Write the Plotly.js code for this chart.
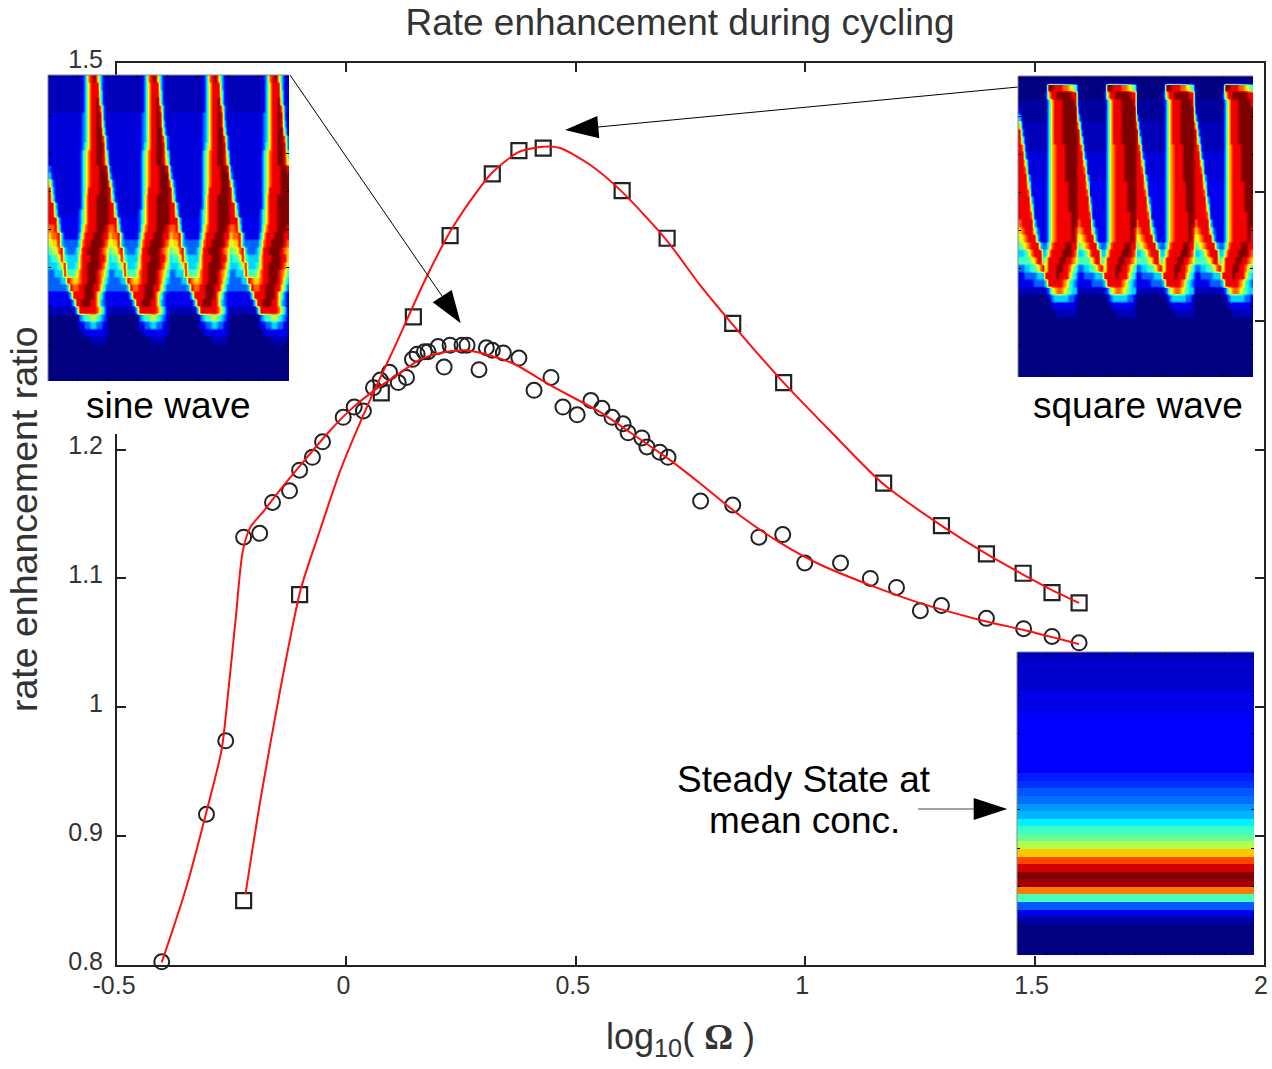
<!DOCTYPE html>
<html>
<head>
<meta charset="utf-8">
<script src="https://cdn.plot.ly/plotly-3.0.1.min.js"></script>
<style>html,body{margin:0;padding:0;background:#fff}</style>
</head>
<body>
<div id="chart" style="width:1272px;height:1069px"></div>
<script>
// Markers
const sineX = [-0.4025,-0.305,-0.263,-0.224,-0.189,-0.161,-0.124,-0.102,-0.074,-0.052,-0.007,0.017,0.037,0.059,0.074,0.094,0.113,0.131,0.144,0.154,0.170,0.178,0.200,0.213,0.226,0.252,0.263,0.289,0.305,0.318,0.342,0.376,0.409,0.446,0.472,0.503,0.533,0.557,0.579,0.603,0.614,0.644,0.655,0.683,0.701,0.772,0.842,0.899,0.951,0.999,1.077,1.142,1.199,1.251,1.297,1.395,1.476,1.538,1.597];
const sineY = [0.8025,0.917,0.974,1.132,1.135,1.159,1.168,1.184,1.194,1.206,1.225,1.233,1.230,1.248,1.254,1.260,1.252,1.256,1.270,1.274,1.276,1.276,1.280,1.264,1.281,1.281,1.281,1.262,1.279,1.277,1.275,1.271,1.246,1.256,1.233,1.227,1.238,1.232,1.225,1.220,1.213,1.209,1.202,1.198,1.194,1.160,1.157,1.132,1.134,1.112,1.112,1.100,1.093,1.075,1.079,1.069,1.061,1.055,1.050];
const squareX = [-0.224,-0.102,0.076,0.146,0.226,0.318,0.376,0.429,0.601,0.699,0.842,0.953,1.171,1.297,1.395,1.475,1.538,1.597];
const squareY = [0.850,1.0875,1.244,1.303,1.366,1.414,1.432,1.434,1.401,1.364,1.298,1.252,1.174,1.141,1.119,1.104,1.089,1.081];
// Red fitted curves
const sineFitX = [-0.4025,-0.350,-0.305,-0.272,-0.257,-0.2415,-0.226,-0.209,-0.183,-0.144,-0.100,-0.035,0.009,0.057,0.107,0.161,0.205,0.259,0.313,0.368,0.444,0.553,0.640,0.705,0.770,0.857,0.944,1.031,1.140,1.249,1.379,1.488,1.597];
const sineFitY = [0.802,0.859,0.919,0.967,1.014,1.068,1.121,1.140,1.151,1.169,1.188,1.215,1.231,1.245,1.257,1.270,1.275,1.277,1.273,1.266,1.250,1.229,1.208,1.192,1.174,1.149,1.128,1.111,1.095,1.081,1.068,1.059,1.049];
const squareFitX = [-0.220,-0.187,-0.144,-0.100,-0.057,-0.013,0.052,0.107,0.172,0.226,0.270,0.318,0.376,0.429,0.466,0.531,0.601,0.699,0.770,0.842,0.953,1.053,1.171,1.297,1.395,1.475,1.538,1.597];
const squareFitY = [0.855,0.929,1.014,1.091,1.138,1.184,1.239,1.281,1.332,1.369,1.393,1.415,1.431,1.435,1.434,1.421,1.400,1.362,1.328,1.297,1.252,1.215,1.173,1.141,1.119,1.103,1.091,1.081];
const xTickVals = [-0.5,0,0.5,1,1.5,2];
const xTickText = ['-0.5','0','0.5','1','1.5','2'];
const yTickVals = [0.8,0.9,1,1.1,1.2,1.3,1.4,1.5];
const yTickText = ['0.8','0.9','1','1.1','1.2','1.3','1.4','1.5'];

// One period of each inset image, one string per row, level 0-9 on the jet scale
// (',' is 0.25, '.' is 0.5, ':' is 0.8)
const sinePeriod = [
"...........13789631.","...........13688831.","...........13688841.","...........13688941.",
"...........13688972.",":::::::::::23688982.",":::::::::::23688983.",":::::::::::23688994:",
"::::::::::1236889972","::::::::::1246889982","::::::::::1357889984","::::::::::1357889985",
"2:::::::::1357888998","31::::::::1357888999","621:::::::1357888999","831:::::::1358888999",
"841:::::::1368889999","8831::::::1368889999","8841::::::2468889999","88831111112468889999",
"77841111112578889998","67783111113688899988","56683222224788999987","45578322235889999876",
"34458433336888999886","33345833346889999875","22333844457889998764","22223387667889998753",
"22222238778899988642","11111113888899986421","11111111388999886321",".........38888887531",
"00000000002344554321","0000000000112233221.","00000000000.1111111.","00000000000000.....0",
"00000000000000000000","00000000000000000000","00000000000000000000","00000000000000000000","00000000000000000000"];
const squarePeriod = [
"00000000000000000000","00000000009988877654","00000000016889999988",",,,,,,,,,,3688899998",
"1,,,,,,,,,3688899999","3,,,,,,,,,3688899999","61........3688899999","82........3688899999",
"84........3688899999","871.......3678889999","882:::::::3678889999","8851::::::3678889999",
"8871::::::3678889999","88831:::::3678889999","88851111113678888999","88871111113678888999",
"88883111113678888999","88885111113678888999","88887111113678888899","78888311113678888899",
"67888521113678888898","56788831113678888898","45678883224788889988","33457888336888899987",
"44445688458888998876","22334457858889988754","11222233388889888643","11111222238888876432",
".........12567765433","0000000000.233333221","00000000000.1111111.","0000000000000.......",
"00000000000000000000","00000000000000000000","00000000000000000000","00000000000000000000",
"00000000000000000000","00000000000000000000","00000000000000000000","00000000000000000000"];
const steadyRows = [0.55,0.68,0.68,0.68,0.68,0.9,0.9,0.9,1.125,1.125,1.125,1.125,1.125,1.125,1.125,1.125,1.39,1.57,1.88,2.1,2.45,2.71,3.25,3.9,4.26,4.96,6.1,7.25,8.27,9,8.72,6.8,4,1.9,0.9,0.28,0,0,0,0];

const jet = [[0,'rgb(0,0,128)'],[0.125,'rgb(0,0,255)'],[0.375,'rgb(0,255,255)'],[0.625,'rgb(255,255,0)'],[0.875,'rgb(255,0,0)'],[1,'rgb(128,0,0)']];
const W = 1272, H = 1069;
const px = v => v / W, py = v => 1 - v / H;
const LEVELS = {',':0.25, '.':0.5, ':':0.8};
const ROW_REPEAT = 3;
const grid = rows => rows.flatMap(r => {
  const row = r.repeat(4).split('').map(c => c in LEVELS ? LEVELS[c] : +c);
  return Array(ROW_REPEAT).fill(row);
});
const BASE = 'Liberation Sans, Arial, sans-serif';

const heat = (z, xa, ya, smooth) => ({type:'heatmap', z, xaxis:xa, yaxis:ya, colorscale:jet, zmin:0, zmax:9, showscale:false, hoverinfo:'skip', zsmooth:smooth});
const data = [
  {type:'scatter', mode:'markers', x:sineX, y:sineY, cliponaxis:false, name:'sine', marker:{symbol:'circle-open', size:15, color:'#222', line:{width:2, color:'#222'}}},
  {type:'scatter', mode:'markers', x:squareX, y:squareY, cliponaxis:false, name:'square', marker:{symbol:'square-open', size:15, color:'#222', line:{width:2.2, color:'#222'}}},
  {type:'scatter', mode:'lines', x:sineFitX, y:sineFitY, cliponaxis:false, line:{color:'#ff1010', width:2, shape:'spline', smoothing:0.7}},
  {type:'scatter', mode:'lines', x:squareFitX, y:squareFitY, cliponaxis:false, line:{color:'#ff1010', width:2, shape:'spline', smoothing:0.7}},
  heat(grid(sinePeriod),'x2','y2','best'),
  heat(grid(squarePeriod),'x3','y3','best'),
  heat(steadyRows.map(v => [v,v]),'x4','y4',false)
];

const inset = (l,r,t,b,nx,ny,dx,dy,x0,y0) => ({
  x:{domain:[px(l),px(r)], range:[-0.5,nx-0.5], showgrid:false, zeroline:false, showticklabels:false, ticks:'inside', ticklen:3, tickwidth:1, tickcolor:'#000', tick0:x0, dtick:dx, mirror:'ticks', showline:false},
  y:{domain:[py(b),py(t)], range:[ny-0.5,-0.5], showgrid:false, zeroline:false, showticklabels:false, ticks:'inside', ticklen:3, tickwidth:1, tickcolor:'#000', tick0:y0, dtick:dy, mirror:'ticks', showline:false}
});
const a2 = inset(48,289,75,381,80,41*ROW_REPEAT,10,5.12*ROW_REPEAT,9.3,5.2*ROW_REPEAT);
const a3 = inset(1018,1253,76,377,80,40*ROW_REPEAT,10,5.05*ROW_REPEAT,9.3,5.2*ROW_REPEAT);
const a4 = inset(1017,1254,652,955,2,40,0.25,5.05,-0.25,5.2);

const tri = (a,b,c) => ({type:'path', xref:'paper', yref:'paper', layer:'above', fillcolor:'#000', line:{width:0},
  path:`M${px(a[0])},${py(a[1])}L${px(b[0])},${py(b[1])}L${px(c[0])},${py(c[1])}Z`});
const seg = (a,b,color,width) => ({type:'line', xref:'paper', yref:'paper', layer:'above', line:{color, width},
  x0:px(a[0]), y0:py(a[1]), x1:px(b[0]), y1:py(b[1])});
const frame = (l,t,r,b) => [seg([l,t],[r,t],'#888',1), seg([l,t],[l,b],'#888',1)];

const note = (text,x,y,size) => ({xref:'paper', yref:'paper', x:px(x), y:py(y), xanchor:'center', yanchor:'middle', showarrow:false, text, font:{family:BASE, size, color:'#000'}});

const layout = {
  width:W, height:H, margin:{l:0,r:0,t:0,b:0}, paper_bgcolor:'#fff', plot_bgcolor:'#fff', showlegend:false,
  font:{family:BASE, color:'#333'},
  title:{text:'Rate enhancement during cycling', x:680/W, xanchor:'center', xref:'container', y:py(22), yanchor:'middle', yref:'container', font:{family:BASE, size:37, color:'#333'}},
  xaxis:{domain:[px(117),px(1264)], range:[-0.5,2], anchor:'y', tickmode:'array', tickvals:xTickVals, ticktext:xTickText, ticks:'inside', ticklen:9, tickwidth:2, tickcolor:'#222', showline:true, linewidth:2, linecolor:'#222', mirror:'allticks', showgrid:false, zeroline:false, ticklabelstandoff:-3, ticklabelshift:-3, tickfont:{family:BASE, size:25, color:'#333'},
    title:{text:'log<sub>10</sub>( <span style="font-family:Liberation Serif;font-weight:bold">Ω</span> )\u00a0\u00a0\u200b', standoff:26, font:{family:BASE, size:36, color:'#333'}}},
  yaxis:{domain:[py(965),py(63)], range:[0.8,1.5], anchor:'x', tickmode:'array', tickvals:yTickVals, ticktext:yTickText, ticks:'inside', ticklen:9, tickwidth:2, tickcolor:'#222', showline:true, linewidth:2, linecolor:'#222', mirror:'allticks', showgrid:false, zeroline:false, ticklabelstandoff:7, ticklabelshift:-4, tickfont:{family:BASE, size:25, color:'#333'},
    title:{text:'rate enhancement ratio\u00a0\u200b', standoff:19, font:{family:BASE, size:37.5, color:'#333'}}},
  xaxis2:Object.assign({anchor:'y2'},a2.x), yaxis2:Object.assign({anchor:'x2'},a2.y),
  xaxis3:Object.assign({anchor:'y3'},a3.x), yaxis3:Object.assign({anchor:'x3'},a3.y),
  xaxis4:Object.assign({anchor:'y4'},a4.x), yaxis4:Object.assign({anchor:'x4'},a4.y),
  shapes:[
    {type:'rect', xref:'paper', yref:'paper', layer:'above', fillcolor:'#fff', line:{width:0}, x0:px(48), x1:px(290), y0:py(381), y1:py(434)},
    seg([290,75],[442,296],'#000',1), tri([460.7,323.3],[432.7,302.3],[451.7,290]),
    seg([1018,87],[598,127],'#000',1), tri([565,130],[597.3,116],[599.3,138.3]),
    seg([918,809],[974,809],'#444',1), tri([1007.3,809],[973.7,798],[973.7,820])
  ].concat(frame(48,75,289,381), frame(1018,76,1253,377), frame(1017,652,1254,955)),
  annotations:[
    note('sine wave',168,405,37),
    note('square wave',1138,405,37),
    note('Steady State at',804,779,37),
    note('mean conc.',804,820,37)
  ]
};
Plotly.newPlot('chart', data, layout, {displayModeBar:false, responsive:false});
</script>
</body>
</html>
